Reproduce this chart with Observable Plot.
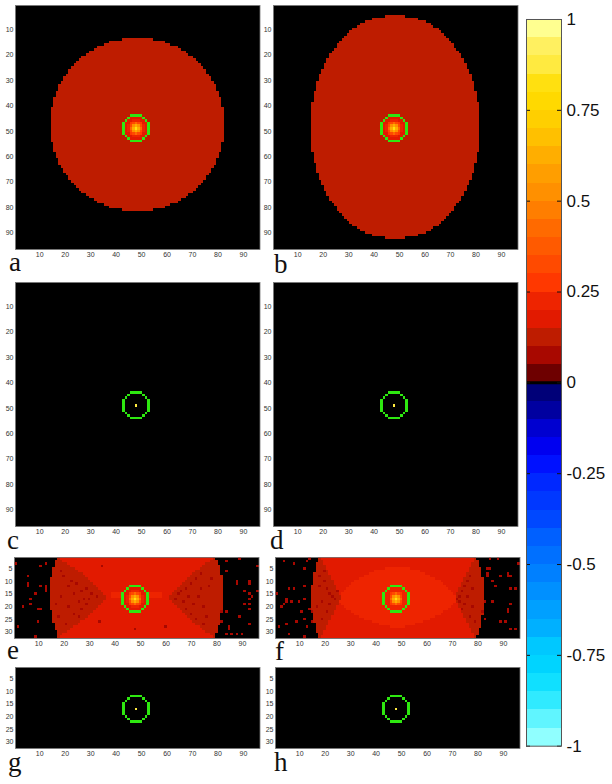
<!DOCTYPE html>
<html><head><meta charset="utf-8">
<script src="https://cdn.jsdelivr.net/npm/d3@7"></script>
<script src="https://cdn.jsdelivr.net/npm/@observablehq/plot@0.6"></script>
<style>
html,body{margin:0;padding:0;background:#fff}
#root{position:relative;width:612px;height:784px;overflow:hidden}
#root svg{position:absolute;background:transparent;max-width:none}
.tag{position:absolute;font:27px/1 "Liberation Serif",serif;color:#111}
</style></head><body><div id="root"></div>
<script>
// colour levels of the bar (from -1 to 1)
const barEdges = [-1,-.95,-.9,-.85,-.8,-.75,-.7,-.65,-.6,-.55,-.5,-.45,-.4,-.35,-.3,-.25,-.2,-.15,-.1,-.05,0,.05,.1,.15,.2,.25,.3,.35,.4,.45,.5,.55,.6,.65,.7,.75,.8,.85,.9,.95,1];
const barColors = ["#90FFFF","#60F5FF","#30EAFF","#10E0FF","#00D4FF","#00C8FF","#00B0FF","#00A0FF","#0090FF","#0080FF","#0070FF","#0060FF","#0048FF","#0038FF","#0028FF","#0011FF","#0000F0","#0000D0","#0000A0","#000078",
"#6E0000","#A80800","#BE1C00","#E21A00","#EE2400","#FF3800","#FF4A00","#FF5A00","#FF6A00","#FF7E00","#FF9000","#FF9E00","#FFAE00","#FFC000","#FFCF00","#FFD900","#FFE010","#FFEA40","#FFF060","#FFFF90"];
const barTicks = [1,.75,.5,.25,0,-.25,-.5,-.75,-1];
const ticksLong = [10,20,30,40,50,60,70,80,90];
const ticksShort = [5,10,15,20,25,30];
// levels
const valDisk = .125, valBright = .175, valLens = .225, valDark = .075, valPeak = .85;
// disc of panel a: half width of each row, from the middle outwards
const discHalfA = [34,34,34,34,34,34,34,33,33,33,33,32,32,31,31,31,30,29,29,28,27,27,26,25,24,23,22,20,19,17,16,13,11,6];
// ellipse of panel b
const discHalfB = [33,33,33,33,33,33,33,33,33,33,32,32,32,32,31,31,31,31,30,30,30,29,29,28,28,27,27,26,26,25,24,23,23,22,21,20,19,18,17,15,14,12,9,4];
// central glow (rows and columns around the peak; 0 means no cell)
const glow = [
 [0,0,.17,.17,.17,.17,.17,0,0],
 [0,.17,.19,.22,.23,.22,.19,.17,0],
 [.17,.19,.27,.33,.4,.33,.27,.19,.17],
 [.17,.22,.33,.5,.6,.5,.33,.22,.17],
 [.17,.23,.4,.6,.82,.6,.4,.23,.17],
 [.17,.22,.33,.5,.6,.5,.33,.22,.17],
 [.17,.19,.27,.33,.4,.33,.27,.19,.17],
 [0,.17,.19,.22,.23,.22,.19,.17,0],
 [0,0,.17,.17,.17,.17,.17,0,0]];
// green octagon, column and row offsets of its cells
const ringCols = [-2,-1,0,1,2,-3,3,-4,4,-5,5,-5,5,-5,5,-5,5,-5,5,-4,4,-3,3,-2,-1,0,1,2];
const ringRows = [-5,-5,-5,-5,-5,-4,-4,-3,-3,-2,-2,-1,-1,0,0,1,1,2,2,3,3,4,4,5,5,5,5,5];
// panel e, per row 1..32
const eOuterL = [18,17,17,17,16,16,16,16,15,15,15,15,15,15,15,15,15,15,15,15,15,16,16,16,16,16,17,17,17,18,18,18];
const eOuterR = [79,80,80,81,81,81,81,82,82,82,82,82,82,82,82,82,82,82,82,82,82,82,81,81,81,81,81,80,80,80,79,79];
const eWedgeL = [18,19,21,22,24,25,27,28,29,30,31,32,33,34,35,36,36,35,34,33,32,31,30,29,28,26,25,23,22,21,19,18];
const eWedgeR = [79,78,76,75,74,72,71,70,69,68,67,66,65,64,63,62,62,63,64,65,66,67,68,69,70,71,72,74,75,76,78,79];
const eBandRows = [15,16];
const eBandFrom = [39,53], eBandTo = [43,58];
const eDotCols = [1,11,13,6,6,6,11,13,13,13,9,7,7,4,10,11,10,2,9,84,89,96,84,88,88,93,93,91,96,93,93,94,91,93,93,84,82,89,93,85,85,84,86,88,90,82];
const eDotRows = [3,4,3,8,11,12,12,12,13,14,15,17,19,20,21,21,26,28,32,2,1,4,6,10,11,10,11,14,14,15,17,16,19,19,21,22,22,24,27,28,29,31,31,31,31,26];
const eSpeckCols = [20,22,25,27,24,29,31,28,26,30,33,22,19,18,24,27,21,26,29,23,17,19,66,68,70,72,74,69,65,67,73,71,75,76,64,70,72,68,74,77,78,75,34,48,60,35];
const eSpeckRows = [8,12,11,14,15,13,15,17,18,17,16,20,16,24,23,21,27,24,19,10,19,6,14,13,11,9,7,16,15,18,16,19,20,24,17,23,25,21,13,12,9,27,26,29,28,4];
// panel f
const fOuterL = [18,18,17,17,17,17,16,16,16,16,16,15,15,15,15,15,15,15,15,15,15,16,16,16,16,16,17,17,17,17,18,18];
const fOuterR = [79,80,80,80,81,81,81,81,82,82,82,82,82,82,82,82,82,82,82,82,82,82,82,81,81,81,81,81,80,80,80,79];
const fWedgeL = [18,19,19,20,20,21,21,22,22,23,23,24,24,25,25,26,26,25,25,24,24,23,23,22,22,21,21,20,20,19,19,18];
const fWedgeR = [79,79,78,78,77,77,76,76,75,75,74,74,73,73,72,72,72,72,73,73,74,74,75,75,76,76,77,77,78,78,79,79];
const fLensRows = [5,6,7,8,9,10,11,12,13,14,15,16,17,18,19,20,21,22,23,24,25,26,27,28];
const fLensHalf = [5,9,11,13,15,17,18,19,20,21,22,23,23,23,22,21,20,18,17,15,13,10,7,3];
const fDotCols = [4,8,12,13,14,12,6,8,1,5,5,4,3,7,10,12,14,11,15,9,12,15,5,13,2,6,12,85,88,96,84,85,92,84,84,86,89,92,93,87,93,95,86,83,93,92,92,82,83,89,91,93,95];
const fDotRows = [2,3,5,2,1,12,13,13,15,17,18,19,20,18,18,17,21,22,22,26,25,26,27,28,28,31,32,1,1,3,5,5,7,7,8,10,8,8,8,12,13,13,18,18,19,21,22,22,25,26,26,29,29];
const fSpeckCols = [18,20,21,22,23,19,17,21,24,18,20,22,25,19,75,74,73,76,77,78,72,75,77,74,76,79,73,78];
const fSpeckRows = [8,10,13,15,16,18,20,22,17,12,6,19,14,25,12,14,16,10,8,20,17,19,24,21,16,26,18,13];
// panel frames and tags
const panelLefts = {a:14.6,b:273.3,c:14.6,d:273.3,e:14,f:275,g:15,h:275};
const panelTops = {a:4.9,b:4.9,c:282,d:282,e:557.3,f:557.3,g:667.3,h:667.3};
const tagLefts = {a:9,b:274,c:7,d:270,e:7,f:275,g:8,h:274};
const tagBases = {a:272,b:274,c:550,d:550,e:660,f:661,g:772,h:772};

const PANEL_W = 244.5, mL = 16, mR = 2, mT = 2, mB = 14;
const colorScale = {type:"threshold", domain:barEdges.slice(1,-1), range:barColors};
const root = document.getElementById("root");
const cell = (c1,c2,r1,r2,v) => ({x1:c1-.5,x2:c2+.5,y1:r1-.5,y2:r2+.5,v});

function discCells(half, topRowMiddle, v){
  const out = [];
  half.forEach((h,i) => {
    out.push(cell(49-h,48+h,topRowMiddle-i,topRowMiddle-i,v));
    out.push(cell(49-h,48+h,topRowMiddle+1+i,topRowMiddle+1+i,v));
  });
  return out;
}
const glowCells = (row,min) => glow.flatMap((line,i) => line.map((v,j) => cell(44+j,44+j,row-4+i,row-4+i,v))).filter(d => d.v > min);
const ringCells = (row) => ringCols.map((c,i) => cell(48+c,48+c,row+ringRows[i],row+ringRows[i],0));
const dotCells = (cols,rows,v) => cols.map((c,i) => cell(c,c,rows[i],rows[i],v));
const spanCells = (from,to,v) => from.map((c,i) => cell(c,to[i],i+1,i+1,v));

function panel(name, rows, cells, centre){
  const h = rows * (rows === 96 ? 244/96 : 81/32);
  const marks = [
    Plot.frame({fill:"#000"}),
    Plot.rect(cells,{x1:"x1",x2:"x2",y1:"y1",y2:"y2",fill:"v",shapeRendering:"crispEdges",imageFilter:"blur(0.45px)"}),
    Plot.rect(ringCells(centre),{x1:"x1",x2:"x2",y1:"y1",y2:"y2",fill:"#2EE810",shapeRendering:"crispEdges"}),
    Plot.axisX({anchor:"bottom",ticks:ticksLong,tickSize:0,tickPadding:3,fontSize:7,fill:"#333",label:null}),
    Plot.axisY({anchor:"left",ticks:rows===96?ticksLong:ticksShort,tickSize:0,tickPadding:2,fontSize:7,fill:"#333",label:null}),
    Plot.frame({stroke:"#777",strokeWidth:.8})
  ];
  const svg = Plot.plot({
    width:PANEL_W+mL+mR, height:h+mT+mB,
    marginLeft:mL, marginRight:mR, marginTop:mT, marginBottom:mB,
    x:{domain:[.5,96.5]}, y:{domain:[.5,rows+.5],reverse:true},
    color:colorScale,
    style:{fontFamily:"'Liberation Sans',Arial,sans-serif",background:"transparent"},
    marks
  });
  svg.style.left = (panelLefts[name]-mL)+"px";
  svg.style.top = (panelTops[name]-mT)+"px";
  root.appendChild(svg);
  const t = document.createElement("div");
  t.className = "tag"; t.textContent = name;
  t.style.left = tagLefts[name]+"px";
  t.style.top = (tagBases[name]-22.6)+"px";
  root.appendChild(t);
}

panel("a",96,[...discCells(discHalfA,47,valDisk),...glowCells(49,0)],49);
panel("b",96,[...discCells(discHalfB,48,valDisk),...glowCells(49,0)],49);
panel("c",96,[cell(48,48,49,49,valPeak)],49);
panel("d",96,[cell(48,48,49,49,valPeak)],49);
panel("e",32,[
  ...spanCells(eOuterL,eOuterR,valBright),
  ...spanCells(eOuterL,eWedgeL,valDisk),
  ...spanCells(eWedgeR,eOuterR,valDisk),
  ...dotCells(eSpeckCols,eSpeckRows,valDark),
  ...eBandFrom.flatMap((c,i) => eBandRows.map(r => cell(c,eBandTo[i],r,r,valLens))),
  ...dotCells(eDotCols,eDotRows,valDark),
  ...glowCells(17,.18)],17);
panel("f",32,[
  ...spanCells(fOuterL,fOuterR,valBright),
  ...fLensRows.map((r,i) => cell(49-fLensHalf[i],48+fLensHalf[i],r,r,valLens)),
  ...spanCells(fOuterL,fWedgeL,valDisk),
  ...spanCells(fWedgeR,fOuterR,valDisk),
  ...dotCells(fSpeckCols,fSpeckRows,valDark),
  ...dotCells(fDotCols,fDotRows,valDark),
  ...glowCells(17,.2)],17);
panel("g",32,[cell(48,48,17,17,valPeak)],17);
panel("h",32,[cell(48,48,17,17,valPeak)],17);

// colour bar
const barLevels = barColors.map((c,i) => ({y1:barEdges[i],y2:barEdges[i+1],v:(barEdges[i]+barEdges[i+1])/2}));
const barSvg = Plot.plot({
  width:35+50, height:726.7+24,
  marginLeft:0, marginRight:50, marginTop:12, marginBottom:12,
  x:{domain:[0,35],axis:null}, y:{domain:[-1,1]},
  color:colorScale,
  style:{fontFamily:"'Liberation Sans',Arial,sans-serif",background:"transparent"},
  marks:[
    Plot.rect(barLevels,{x1:0,x2:35,y1:"y1",y2:"y2",fill:"v",shapeRendering:"crispEdges",imageFilter:"blur(0.4px)"}),
    Plot.ruleY([0],{stroke:"#000",strokeWidth:3}),
    Plot.ruleY(barTicks,{x1:0,x2:4,stroke:"#111",strokeWidth:1}),
    Plot.ruleY(barTicks,{x1:31,x2:35,stroke:"#111",strokeWidth:1}),
    Plot.axisY({anchor:"right",ticks:barTicks,tickSize:0,tickPadding:5,fontSize:17,fill:"#111",label:null,tickFormat:d => String(d)}),
    Plot.frame({stroke:"#555",strokeWidth:1})
  ]
});
barSvg.style.left = "526.2px";
barSvg.style.top = (19.3-12)+"px";
root.appendChild(barSvg);
</script></body></html>
